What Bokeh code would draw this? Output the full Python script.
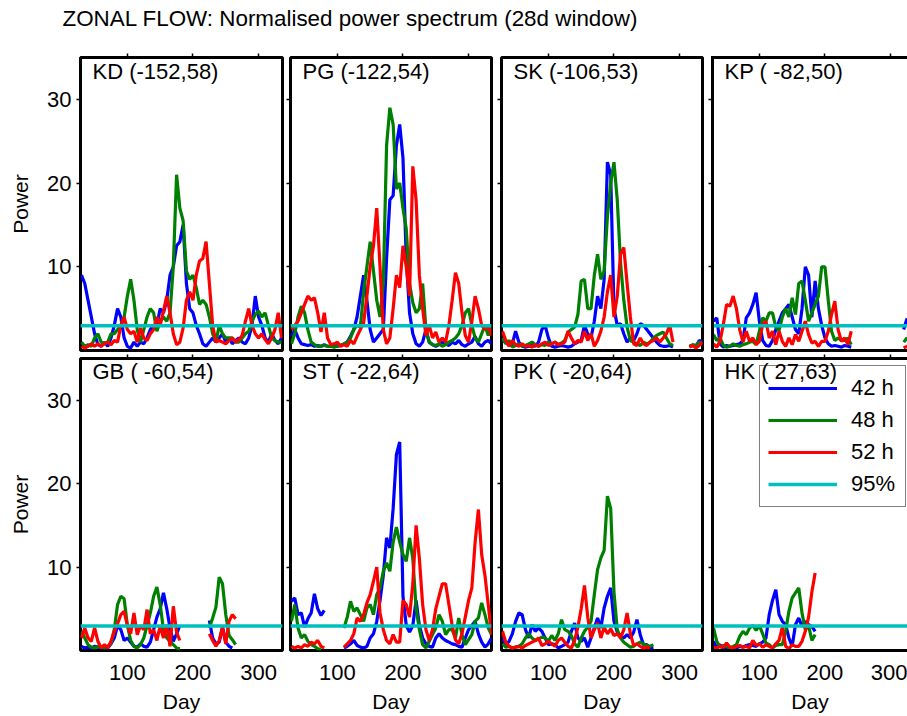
import numpy as np
from bokeh.plotting import figure
from bokeh.models import (Range1d, Label, Legend, LegendItem, LinearAxis,
                          FixedTicker, CustomLabelingPolicy)
from bokeh.layouts import column, row
from bokeh.embed import file_html
from bokeh.resources import INLINE

N = None

# ---------------- data ----------------
title_text = "ZONAL FLOW: Normalised power spectrum (28d window)"
days = list(range(30, 340, 5))          # sample days 30 .. 335
stations = ["KD", "PG", "SK", "KP", "GB", "ST", "PK", "HK"]
coords = ["(-152,58)", "(-122,54)", "(-106,53)", "( -82,50)",
          "( -60,54)", "( -22,64)", "( -20,64)", "(  27,63)"]
periods = ["42 h", "48 h", "52 h"]
level_label = "95%"
sig95 = [2.95, 2.95, 2.95, 2.95, 2.95, 2.95, 2.95, 2.95]
x_ticks = [100, 200, 300]
y_ticks = [10, 20, 30]

kd_42 = [9, 8, 6, 4, 2, 0.7, 0.5, 1, 0.5, 1.5,
         3, 5, 4, 1.5, 0.5, 0.3, 1, 0.5, 1, 0.8,
         1.5, 2.5, 3, 3, 5, 4.5, 6, 9, 10, 12.5,
         13, 15, 8, 5, 4.5, 3, 2, 0.8, 0.5, 1,
         1.5, 1, 1.5, 2, 1, 1.5, 0.8, 1.2, 1.5, 1,
         0.8, 1.5, 3, 6.5, 4, 3, 1.5, 1, 2, 1.2,
         0.8, 1.5]
kd_48 = [1, 0.5, 0.7, 0.5, 1.5, 2, 1, 0.8, 1, 2,
         2, 2.5, 3, 4, 6.5, 8.5, 6, 2.5, 1, 2.5,
         4, 5, 4.5, 2.3, 3.5, 4, 3.5, 4.5, 10, 21,
         17, 15.5, 9.5, 8.5, 9, 7.5, 5.5, 6, 5.5, 4,
         2, 1, 3, 2, 1.5, 1.5, 1.5, 1, 1, 1.5,
         2, 2.3, 3.5, 4.3, 4.7, 4, 4.5, 3, 1.5, 1.2,
         1, 1]
kd_52 = [0.5, 0.3, 0.5, 0.8, 0.5, 0.8, 0.5, 0.8, 1, 0.7,
         1.2, 1, 3, 4, 2.5, 2, 2.3, 1, 2.7, 1.5,
         1.2, 2, 2.5, 4, 3, 4.7, 6.5, 4.5, 2, 0.7,
         1, 2.7, 6, 7, 6, 9, 10.7, 11, 13, 8,
         3, 1, 1.2, 1, 0.8, 1.2, 1.5, 1, 1.3, 1.8,
         3.5, 5, 3, 2, 1.5, 2, 1.3, 0.8, 1.5, 2.5,
         4.5, 1.5]

pg_42 = [1.7, 2.5, 1.5, 0.8, 0.7, 0.6, 0.7, 0.5, 0.6, 0.5,
         0.7, 0.5, 0.5, 0.7, 0.5, 0.6, 0.8, 1, 1.7, 2.5,
         4, 6.5, 9, 6, 2.5, 1, 1.5, 2, 2.5, 11,
         18, 18.5, 24.5, 27, 23, 11, 4.5, 2, 0.8, 0.5,
         1, 2.5, 1, 0.7, 0.5, 0.7, 1, 0.8, 0.6, 1,
         0.8, 1.2, 0.7, 0.5, 0.8, 1, 1.7, 0.8, 0.5, 1,
         1.2, 0.8]
pg_48 = [0.8, 2, 4, 5.3, 4.5, 2.5, 1, 0.7, 0.5, 0.5,
         0.6, 0.5, 0.5, 0.4, 0.5, 0.6, 0.8, 1, 1.5, 2.5,
         3, 2.8, 7, 10, 13, 9.5, 6, 4, 8, 24.5,
         29, 27, 19.3, 20, 17, 14.5, 8, 5.7, 4.5, 5,
         8, 2.5, 1, 0.7, 0.6, 0.8, 0.5, 0.7, 1, 1.2,
         1.5, 2, 3, 4.5, 5, 3, 1.5, 1, 2, 3,
         1.8, 2.8]
pg_52 = [2.5, 3, 3.5, 4.5, 5.5, 6.5, 6, 6.3, 4.5, 2.2,
         4.5, 1.5, 0.7, 0.8, 1, 0.5, 0.7, 0.5, 1.2, 0.8,
         1.7, 2.5, 3.3, 6.5, 10, 12.5, 17, 10, 2.5, 0.8,
         1.5, 5, 9, 7.5, 12.5, 10, 6.5, 22, 18, 9,
         5, 1.8, 3, 1.5, 2.2, 1, 1.5, 1, 3, 6,
         9.3, 8, 4.5, 1.8, 1, 3.5, 6.5, 5, 3, 2.5,
         3, 1.8]

sk_42 = [1.2, 1, 0.6, 0.8, 2.3, 1, 0.5, 0.4, 0.5, 0.6,
         0.5, 1, 2.5, 3, 1.5, 0.5, 0.4, 0.5, 0.6, 0.5,
         0.4, 0.5, 0.8, 1, 1.2, 3, 2, 1.5, 3.5, 6.5,
         5, 8.5, 22.5, 21, 5, 3, 3.2, 2, 1, 1.5,
         1.2, 2, 3.2, 3, 2.5, 2, 1.5, 1, 0.6, 0.5,
         0.5, 0.6, 0.4, N, N, N, N, 0.5, 0.6, 0.5,
         1.2, 1]
sk_48 = [1.5, 0.8, 1.2, 0.4, 0.6, 0.8, 0.5, 0.6, 0.8, 1,
         0.7, 0.5, 0.7, 0.6, 1, 0.8, 1, 0.7, 0.9, 1.2,
         2.2, 2.5, 2.8, 4.3, 8.3, 8.5, 5, 5, 9, 11.5,
         8.5, 9.5, 16, 20, 22.5, 18, 10.5, 6, 2.8, 1.2,
         1, 0.8, 0.6, 1, 0.8, 1, 1.5, 1.8, 2, 2.2,
         1.5, 0.8, 0.6, N, N, N, N, 0.5, 0.7, 0.6,
         1, 0.8]
sk_52 = [2.3, 1.2, 0.5, 1.2, 0.7, 0.5, 0.8, 0.5, 0.6, 0.4,
         0.7, 0.5, 0.8, 1, 0.6, 0.8, 1, 0.7, 0.8, 1,
         2.3, 1.5, 0.8, 1.2, 1, 2.3, 1.2, 2, 0.5, 1.2,
         2.3, 4, 7, 9, 4, 6.5, 11.5, 12.3, 8, 4,
         0.8, 0.6, 1.5, 0.8, 0.6, 1, 1.2, 1.5, 1, 1.5,
         2, 3, 1, N, N, N, N, 0.4, 0.6, 0.3,
         0.6, 1]

kp_42 = [3.5, 3.9, 0.8, 0.4, 0.6, 0.5, 0.6, 0.7, 0.8, 1.2,
         3.9, 4.5, 5.5, 6.9, 3.5, 1.2, 0.6, 0.5, 1.2, 2.5,
         3.5, 4.5, 5, 5.5, 4, 2.5, 2, 5, 10, 9,
         4, 8.3, 5, 3, 1.5, 0.8, 0.5, 0.6, 0.5, 0.4,
         0.6, 0.5, 0.4, N, N, N, N, N, N, N,
         N, N, N, N, N, N, N, N, 2.5, 3.8,
         3, 2]
kp_48 = [1.9, 1.2, 1.5, 0.6, 0.4, 0.5, 0.8, 0.6, 0.5, 0.7,
         0.8, 1, 1.1, 0.7, 2.3, 3.9, 3.5, 4.5, 4.5, 2.8,
         2.4, 4, 5, 4, 6.3, 4.3, 8, 8.3, 6, 3.5,
         4.5, 5.5, 6.5, 10, 10, 6, 2.3, 1.2, 1.5, 1.2,
         1.2, 1.5, 0.7, N, N, N, N, N, N, N,
         N, N, N, N, N, N, N, N, 1, 1.5,
         1.2, 1]
kp_52 = [0.8, 0.4, 1.1, 3.1, 5.5, 5.3, 6.5, 5, 2.5, 1,
         2.3, 1.1, 1.5, 0.7, 1.1, 3.1, 3.5, 1.5, 2.3, 0.7,
         2.3, 1.1, 0.5, 1.5, 0.7, 1.9, 1.1, 2.3, 3.5, 1.9,
         0.9, 1.1, 0.5, 1.1, 1.1, 2.3, 4.3, 5.9, 2.5, 1.1,
         1.5, 0.7, 2.3, N, N, N, N, N, N, N,
         N, N, N, N, N, N, N, N, 0.3, 0.5,
         0.5, 0.4]

gb_42 = [0.5, 0.3, 0.4, 0.3, 0.5, 0.4, 0.3, 0.4, 0.3, 0.8,
         1.5, 3, 2.5, 1.2, 1.5, 1, 0.5, 0.4, 0.8, 0.5,
         0.4, 1, 2.5, 4, 5, 6.9, 5, 2.7, 1.1, 2,
         3, N, N, N, N, N, N, N, N, 3.6,
         1.5, 0.8, 1, 2.8, 1, 0.5, 0.3, N, N, N,
         N, N, N, N, N, N, N, N, N, N,
         N, N]
gb_48 = [2.3, 1.5, 0.7, 0.4, 0.3, 0.5, 0.4, 0.3, 0.5, 0.8,
         2.5, 5.5, 6.5, 6.2, 3, 1.2, 0.5, 0.3, 0.7, 1.5,
         3, 4.5, 6.5, 7.6, 5.5, 2.5, 1.5, 1.1, 0.7, 0.3,
         0.2, N, N, N, N, N, N, N, N, 2.7,
         3.9, 5.2, 8.8, 8, 4.3, 1.8, 1.3, 0.7, N, N,
         N, N, N, N, N, N, N, N, N, N,
         N, N]
gb_52 = [1.5, 2.7, 1.5, 1.1, 2.7, 1.1, 0.3, 0.7, 0.3, 1.1,
         2.3, 3.2, 4.3, 4.7, 3, 2, 4.5, 1.9, 3, 2.5,
         4.9, 2, 2.5, 1.2, 3, 1.5, 3.1, 0.5, 5.3, 2.2,
         1.2, N, N, N, N, N, N, N, N, 2,
         1.2, 0.5, 1.2, 2.8, 0.8, 3.5, 4.3, 3.8, N, N,
         N, N, N, N, N, N, N, N, N, N,
         N, N]

st_42 = [5.9, 6.3, 4.3, 4.5, 2.8, 3.8, 4.5, 6.8, 5, 4.2,
         4.8, N, N, N, N, N, 0.3, 0.5, 0.8, 1.2,
         0.6, 0.4, 0.3, 0.5, 1.5, 2, 3.5, 6, 9, 13.5,
         12.3, 17, 23.5, 25, 6.5, 3, 2.2, 3, 6, 3,
         1.5, 0.8, 0.5, 0.4, 1.5, 2, 1.5, 1.2, 1, 0.8,
         0.7, 0.5, 0.4, 1.5, 2.5, 3, 3.5, 2, 1, 0.4,
         0.8, 1.5]
st_48 = [3.5, 5.5, 2.7, 1.5, 1.9, 1.1, 0.7, 0.5, 0.2, 0.1,
         N, N, N, N, N, N, 2.7, 4, 5.9, 4.7,
         5.1, 4.3, 3.5, 5.1, 5.5, 4.3, 6.7, 7.5, 9.5, 10.5,
         9.5, 13, 14.8, 13, 11.5, 10.7, 13.5, 11, 5.1, 2.5,
         0.7, 0.3, 1.1, 1.9, 2.7, 4.3, 3.5, 1.9, 2.5, 2.5,
         1.5, 3.9, 1.9, 0.7, 1.3, 1.9, 3.5, 3.9, 5.7, 4.3,
         2.7, 1.9]
st_52 = [0.5, 0.3, 0.5, 0.3, 0.7, 0.5, 1, 0.8, 1.2, 0.5,
         0.3, N, N, N, N, N, 0.4, 0.8, 1.2, 2,
         3.9, 3.5, 4.3, 5.7, 6.7, 8.3, 10, 4.5, 2.5, 1.2,
         0.8, 1.9, 1, 1, 6, 5.5, 4, 8, 15, 11,
         5.5, 2.5, 1.2, 2.5, 5, 6.5, 8, 8, 5.5, 3,
         1.3, 0.8, 2, 4, 6, 7.5, 13, 16.9, 11.5, 9,
         5.5, 1.9]

pk_42 = [1.5, 0.7, 1.1, 2, 3.5, 4.5, 4.3, 2.5, 1.5, 3.1,
         2.3, 2.7, 2.3, 1.5, 0.7, 0.8, 0.7, 0.3, 0.5, 0.7,
         1, 2.3, 3.3, 1.5, 1.1, 1.5, 0.4, 1.5, 2.7, 3.9,
         2.7, 5.1, 6.5, 7.5, 3.5, 2.2, 1.8, 1.5, 1.9, 1.5,
         2.2, 3.7, 1.9, 0.7, 0.7, 0.3, 0.4, N, N, N,
         N, N, N, N, N, N, N, N, N, N,
         N, N]
pk_48 = [0.8, 0.4, 0.5, 0.3, 0.4, 0.5, 0.8, 1.5, 2, 1.5,
         1.2, 1.4, 1.6, 1.5, 1.1, 1.8, 1.2, 2, 3.7, 2.5,
         2.3, 1.8, 0.8, 0.4, 1.5, 2.3, 2.8, 3.5, 6.7, 9.7,
         11.1, 12, 18.5, 17, 7, 2.5, 1.5, 1, 0.7, 0.4,
         0.5, 0.8, 1, 0.8, 0.6, 0.5, 0.7, N, N, N,
         N, N, N, N, N, N, N, N, N, N,
         N, N]
pk_52 = [2.3, 1, 0.5, 0.3, 0.4, 0.5, 0.3, 0.6, 0.8, 1,
         1.2, 1.5, 0.6, 0.8, 1.1, 0.8, 0.5, 1.2, 1.5, 1,
         0.5, 0.3, 1.2, 2.8, 5, 7.8, 4, 1.5, 2.5, 3.3,
         1.5, 2.8, 2, 2.6, 1.8, 2, 1.5, 2.5, 4.5, 2,
         0.6, 0.8, 0.5, 0.3, 0.4, 0.3, N, N, N, N,
         N, N, N, N, N, N, N, N, N, N,
         N, N]

hk_42 = [1.1, 0.3, 0.7, 0.2, 0.3, 0.2, 0.4, 0.3, 0.5, 0.4,
         0.6, 0.7, 0.6, 0.5, 0.8, 1, 1.5, 4.3, 6, 7.3,
         4.3, 3.5, 3.1, 1.5, 0.5, 3.1, 3.9, 2.9, 3.5, 3.1,
         2.9, 2.3, N, N, N, N, N, N, N, N,
         N, N, N, N, N, N, N, N, N, N,
         N, N, N, N, N, N, N, N, N, N,
         N, N]
hk_48 = [2.7, 1.1, 0.4, 0.6, 0.5, 0.3, 0.5, 0.7, 1.7, 2.3,
         1.9, 2.7, 3, 2.4, 3, 2, 0.9, 0.7, 0.3, 0.6,
         0.7, 0.7, 2.3, 4.7, 6.3, 6.9, 7.5, 4.5, 2.5, 3,
         1.2, 1.9, N, N, N, N, N, N, N, N,
         N, N, N, N, N, N, N, N, N, N,
         N, N, N, N, N, N, N, N, N, N,
         N, N]
hk_52 = [0.4, 0.3, 0.5, 0.4, 0.9, 0.4, 0.3, 0.5, 0.6, 0.4,
         0.5, 0.3, 1.2, 0.6, 0.8, 0.4, 0.7, 0.5, 0.3, 0.8,
         1.2, 2.8, 0.5, 0.2, 0.7, 0.5, 0.5, 1.1, 2.3, 4,
         7, 9.3, N, N, N, N, N, N, N, N,
         N, N, N, N, N, N, N, N, N, N,
         N, N, N, N, N, N, N, N, N, N,
         N, N]

panel_series = [
    (kd_42, kd_48, kd_52), (pg_42, pg_48, pg_52),
    (sk_42, sk_48, sk_52), (kp_42, kp_48, kp_52),
    (gb_42, gb_48, gb_52), (st_42, st_48, st_52),
    (pk_42, pk_48, pk_52), (hk_42, hk_48, hk_52),
]

# ---------------- style / layout ----------------
FONT = "Liberation Sans"
COLORS = ["#0000FF", "#008000", "#FF0000"]
CYAN = "#00BFBF"
LW = 3.2
X0, X1 = 28.5, 336.5
Y0, Y1 = 0, 35

FIG_W = [284, 212, 211, 200]
BL = [80, 6, 5, 5]
BR = [2, 5, 5, 0]
FIG_H = [314, 362]
BT = [17, 4]
BB = [4, 66]

HIDE_CODE = "for (let i = 0; i < indices.size; i++) { indices.unset(i) }\nreturn indices"


def tick_axis(show_labels=True, **kw):
    ax = LinearAxis(ticker=FixedTicker(ticks=kw.pop("ticks")),
                    minor_tick_in=0, minor_tick_out=0,
                    major_tick_in=0, major_tick_out=4,
                    major_tick_line_width=1.5, major_tick_line_color="black",
                    major_label_text_font=FONT,
                    major_label_text_font_size="22px",
                    major_label_text_color="black",
                    axis_label_text_font=FONT,
                    axis_label_text_font_size="21px",
                    axis_label_text_font_style="normal",
                    axis_label_text_color="black",
                    axis_line_color=None)
    if not show_labels:
        ax.major_label_text_font_size = "0px"
        ax.major_label_standoff = 0
        ax.major_label_policy = CustomLabelingPolicy(code=HIDE_CODE)
    for k, v in kw.items():
        setattr(ax, k, v)
    return ax


def border(ax):
    ax.axis_line_color = "black"
    ax.axis_line_width = 3
    ax.axis_line_cap = "square"


def make_panel(i):
    r, c = divmod(i, 4)
    frame_w = FIG_W[c] - BL[c] - BR[c]
    x_end = X0 + frame_w * (X1 - X0) / 202.0
    p = figure(width=FIG_W[c], height=FIG_H[r],
               x_range=Range1d(X0, x_end), y_range=Range1d(Y0, Y1),
               output_backend="svg", toolbar_location=None,
               x_axis_location=None, y_axis_location=None,
               min_border_left=BL[c], min_border_right=BR[c],
               min_border_top=BT[r], min_border_bottom=BB[r])
    p.grid.grid_line_color = None
    p.background_fill_color = "white"
    p.border_fill_color = "white"
    last_col = (c == 3)
    if last_col:
        p.outline_line_color = None
    else:
        p.outline_line_color = "black"
        p.outline_line_width = 3
        p.outline_line_alpha = 1.0

    top = tick_axis(show_labels=False, ticks=x_ticks)
    if last_col:
        border(top)
    p.add_layout(top, "above")

    if c == 0:
        left = tick_axis(ticks=y_ticks, major_label_standoff=5,
                         axis_label="Power", axis_label_standoff=12)
    else:
        left = tick_axis(show_labels=False, ticks=y_ticks)
    if last_col:
        border(left)
    p.add_layout(left, "left")

    if r == 1:
        bottom = tick_axis(ticks=x_ticks, major_tick_out=0,
                           major_label_standoff=14,
                           axis_label="Day", axis_label_standoff=7)
        if last_col:
            border(bottom)
        p.add_layout(bottom, "below")
    elif last_col:
        bottom = tick_axis(show_labels=False, ticks=x_ticks, major_tick_out=0)
        border(bottom)
        p.add_layout(bottom, "below")

    renderers = []
    for vals, col in zip(panel_series[i], COLORS):
        y = np.array(vals, dtype=float)
        rr = p.line(days, y, line_color=col, line_width=LW)
        renderers.append(rr)

    # 95% significance level across the panel
    sig_r = p.line(x=[X0, x_end], y=[sig95[i], sig95[i]],
                   line_color=CYAN, line_width=3.5)

    top_px = 14 if r == 0 else 12.7
    frame_h = FIG_H[r] - BT[r] - BB[r]
    p.add_layout(Label(x=X0 + 12 * (X1 - X0) / 202.0,
                       y=Y1 - top_px * (Y1 - Y0) / frame_h,
                       text=f"{stations[i]}  {coords[i]}",
                       text_font=FONT, text_font_size="22px",
                       text_baseline="middle", text_align="left",
                       text_color="black"))

    if i == 7:
        items = [LegendItem(label=lab, renderers=[rr])
                 for lab, rr in zip(periods, renderers)]
        items.append(LegendItem(label=level_label, renderers=[sig_r]))
        leg = Legend(items=items, location=(47, 143),
                     border_line_color="black", border_line_width=1.5,
                     background_fill_alpha=0.0,
                     label_text_font=FONT, label_text_font_size="22px",
                     label_text_color="black",
                     glyph_width=69, glyph_height=28, label_height=28,
                     label_width=46, label_standoff=14,
                     spacing=4, padding=8, margin=0)
        p.add_layout(leg, "center")
    return p


panels = [make_panel(i) for i in range(8)]

tf = figure(width=907, height=40, x_range=Range1d(0, 907), y_range=Range1d(0, 40),
            output_backend="svg", toolbar_location=None,
            x_axis_location=None, y_axis_location=None, min_border=0)
tf.grid.grid_line_color = None
tf.outline_line_color = None
tf.add_layout(Label(x=62, y=22, text=title_text, text_font=FONT,
                    text_font_size="22.4px", text_baseline="middle",
                    text_color="black"))

layout = column(tf, row(*panels[:4]), row(*panels[4:]))
open("out.html", "w").write(file_html(layout, INLINE))
